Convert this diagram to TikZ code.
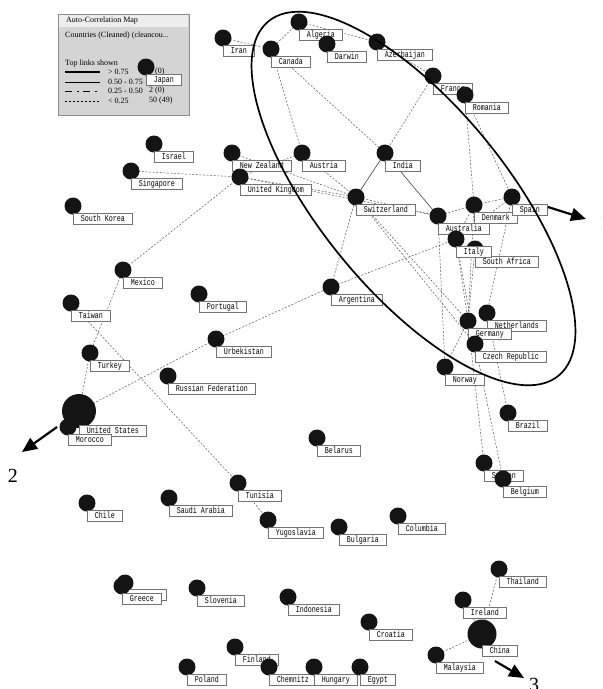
\documentclass[tikz,border=0pt]{standalone}
\usepackage{fontspec}
\setmainfont{Liberation Serif}
\newfontfamily\labelfont[FakeStretch=0.74]{Liberation Mono}
\usetikzlibrary{arrows.meta}
\pgfdeclarelayer{bg}
\pgfsetlayers{bg,main}

\tikzset{
  dot/.style={circle, fill=black!92, inner sep=0pt, minimum size=17pt},
  bigdot/.style={dot, minimum size=34pt},
  lbl/.style={draw=black!55, fill=white, line width=0.7pt,
    font=\labelfont\fontsize{9}{9}\selectfont, inner xsep=7.5pt, inner ysep=0pt,
    minimum height=10.5pt, anchor=north west, text height=6pt, text depth=1.2pt},
  link/.style={draw=black!65, line width=0.5pt, dash pattern=on 2pt off 1.6pt},
  strong/.style={draw=black!75, line width=0.6pt},
  pointer/.style={line width=2.2pt, -{Triangle[length=15pt,width=13pt]}},
  legtext/.style={anchor=west, inner sep=0pt, font=\fontsize{8}{8}\selectfont},
  tag/.style={inner sep=0pt, font=\fontsize{20}{20}\selectfont},
}

% a country: a dot and its name box below-right of the dot
\newcommand\placecountry[4]{%
  \node[dot] (#1) at (#2,#3) {};
  \node[lbl, yshift=-7pt] (#1-l) at (#1.center) {#4};}

\begin{document}
\begin{tikzpicture}[x=1pt, y=-1pt]
\useasboundingbox (0,0) rectangle (603,689);

% legend panel
\node[draw=black!45, fill=black!17, line width=0.6pt, minimum width=131pt, minimum height=101pt,
      anchor=north west, inner sep=0pt] (legend) at (58,14) {};
\node[fill=black!7, minimum width=129pt, minimum height=12pt, anchor=north west, inner sep=0pt]
      (legend-title) at (59,15) {};
\node[legtext] (lt1) at (66,21) {Auto-Correlation Map};
\node[legtext] (lt2) at (65,36) {Countries (Cleaned) (cleancou...};
\node[legtext] (lt3) at (65,64) {Top links shown};
\draw[line width=2.6pt] (65,72) -- (100,72);
\draw[line width=0.7pt] (65,82) -- (100,82);
\draw[line width=0.7pt, dash pattern=on 7pt off 5pt on 2pt off 4pt] (65,91) -- (100,91);
\draw[line width=0.6pt, dash pattern=on 2pt off 2pt] (65,101) -- (100,101);
\node[legtext] (lv1) at (108,72) {> 0.75};
\node[legtext] (lv2) at (108,82) {0.50 - 0.75};
\node[legtext] (lv3) at (108,91) {0.25 - 0.50};
\node[legtext] (lv4) at (108,101) {< 0.25};
\node[legtext] (lc1) at (149,72) {0 (0)};
\node[legtext] (lc2) at (149,82) {0 (0)};
\node[legtext] (lc3) at (149,91) {2 (0)};
\node[legtext] (lc4) at (149,101) {50 (49)};

\placecountry{jp}{146}{67}{Japan}

% top group
\placecountry{iran}{223}{38}{Iran}
\placecountry{alg}{299}{22}{Algeria}
\placecountry{can}{271}{49}{Canada}
\placecountry{dar}{327}{44}{Darwin}
\placecountry{aze}{377}{42}{Azerbaijan}
\placecountry{fra}{433}{76}{France}
\placecountry{rom}{465}{95}{Romania}
\placecountry{ind}{385}{153}{India}
\placecountry{isr}{154}{144}{Israel}
\placecountry{sin}{131}{171}{Singapore}
\placecountry{sko}{73}{206}{South Korea}
\placecountry{nz}{232}{153}{New Zealand}
\placecountry{aut}{302}{153}{Austria}
\placecountry{uk}{240}{177}{United Kingdom}
\placecountry{swi}{356}{197}{Switzerland}
\placecountry{aus}{438}{216}{Australia}
\placecountry{den}{474}{205}{Denmark}
\placecountry{spa}{512}{197}{Spain}
\placecountry{saf}{475}{249}{South Africa}
\placecountry{ita}{456}{239}{Italy}
\placecountry{arg}{331}{287}{Argentina}

% middle group
\placecountry{mex}{123}{270}{Mexico}
\placecountry{por}{199}{294}{Portugal}
\placecountry{tai}{71}{303}{Taiwan}
\placecountry{urb}{216}{339}{Urbekistan}
\placecountry{tur}{90}{353}{Turkey}
\placecountry{rus}{168}{376}{Russian Federation}
\node[bigdot] (us) at (79,411) {};
\node[lbl, yshift=-14pt] (us-l) at (us.center) {United States};
\placecountry{mor}{68}{427}{Morocco}
\placecountry{bel}{317}{438}{Belarus}
\placecountry{net}{487}{313}{Netherlands}
\placecountry{ger}{468}{321}{Germany}
\placecountry{cze}{475}{344}{Czech Republic}
\placecountry{nor}{445}{367}{Norway}
\placecountry{bra}{508}{413}{Brazil}
\placecountry{swe}{484}{463}{Sweden}
\placecountry{blg}{503}{479}{Belgium}

% lower group
\placecountry{tun}{238}{483}{Tunisia}
\placecountry{chi}{87}{503}{Chile}
\placecountry{sau}{169}{498}{Saudi Arabia}
\placecountry{yug}{268}{520}{Yugoslavia}
\placecountry{bul}{339}{527}{Bulgaria}
\placecountry{col}{398}{516}{Columbia}
\node[dot] (grb) at (125,583) {};
\node[lbl, yshift=-6pt, minimum width=41pt] (grb-l) at (grb.center) {};
\placecountry{grc}{122}{586}{Greece}
\placecountry{slo}{197}{588}{Slovenia}
\placecountry{ido}{288}{597}{Indonesia}
\placecountry{cro}{369}{622}{Croatia}
\placecountry{fin}{235}{647}{Finland}
\placecountry{pol}{187}{667}{Poland}
\placecountry{che}{269}{667}{Chemnitz}
\placecountry{hun}{314}{667}{Hungary}
\placecountry{egy}{360}{667}{Egypt}
\placecountry{tha}{499}{569}{Thailand}
\placecountry{ire}{463}{600}{Ireland}
\node[dot, minimum size=29pt] (cn) at (482,634) {};
\node[lbl, yshift=-11pt] (cn-l) at (cn.center) {China};
\placecountry{mal}{436}{655}{Malaysia}

% white ground and correlation links, kept behind the dots and name boxes
\begin{pgfonlayer}{bg}
\fill[white] (0,0) rectangle (603,689);
\foreach \a/\b in {iran/can, alg/can, alg/aze, aze/fra, can/aut, can/ind, fra/ind,
  rom/den, rom/spa, sin/uk, aut/uk, mex/uk, mex/tur, tur/us, urb/us, urb/arg,
  arg/swi, arg/ita, tai/tun, tun/yug, nz/swi, uk/swi, uk/aus, aut/swi,
  swi/aus, aus/den, den/spa, spa/ita, spa/net, den/ita, den/ger, ita/ger, ita/cze,
  saf/ger, aus/nor, nor/ger, ger/swe, cze/blg, net/bra, swi/ger, swi/cze,
  tha/cn, ire/cn, mal/cn}
  \draw[link] (\a.center) -- (\b.center);
\draw[strong] (ind.center) -- (swi.center);
\draw[strong] (ind.center) -- (aus.center);
\end{pgfonlayer}

% highlighted cluster
\begin{scope}[shift={(413.5,198.5)}, rotate=-50.7]
  \draw[line width=1.7pt] (0,0) ellipse [x radius=229, y radius=93];
\end{scope}

% cluster pointers
\coordinate (p1s) at (548,207);
\coordinate (p1e) at (586,219);
\coordinate (p2s) at (57,427);
\coordinate (p2e) at (22,452);
\coordinate (p3s) at (495,661);
\coordinate (p3e) at (524,678);
\draw[pointer] (p1s) -- (p1e);
\draw[pointer] (p2s) -- (p2e);
\draw[pointer] (p3s) -- (p3e);
\node[tag, anchor=west] (t1) at (601,222) {1};
\node[tag] (t2) at (13,476) {2};
\node[tag] (t3) at (534,685) {3};
\end{tikzpicture}
\end{document}
